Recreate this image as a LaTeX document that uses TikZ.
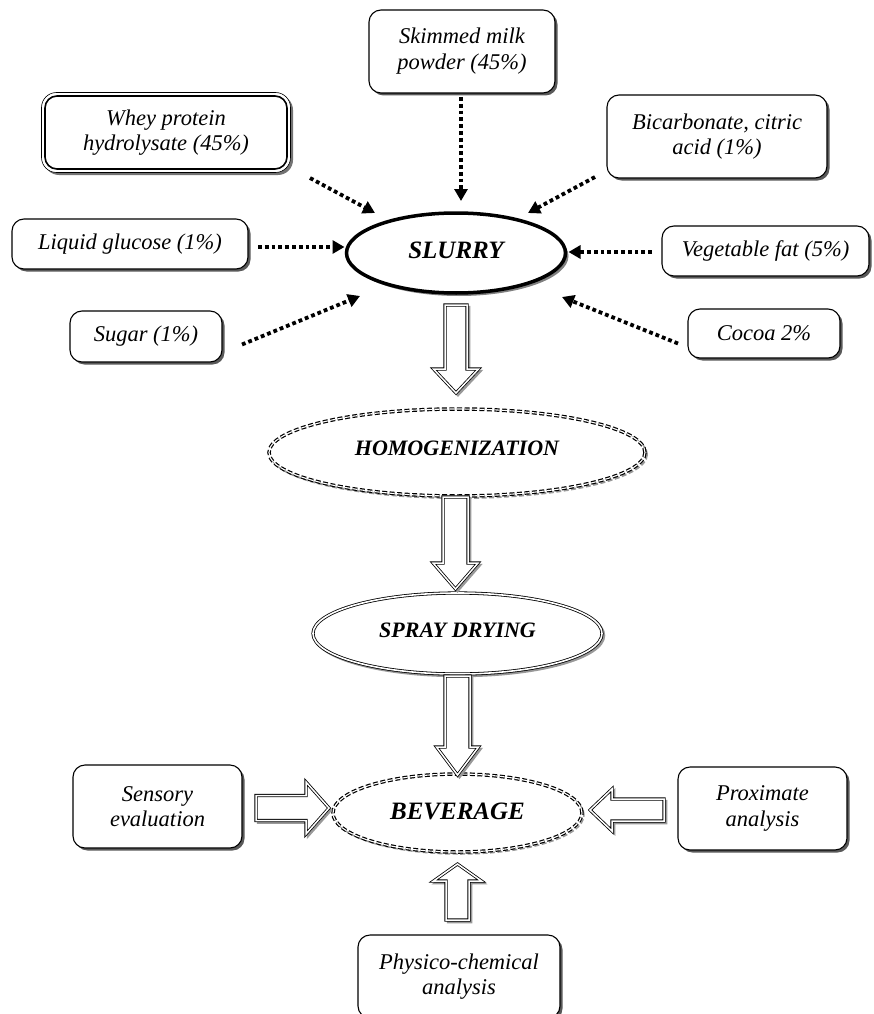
\documentclass[tikz,border=0pt]{standalone}
\usepackage{fontspec}
\setmainfont{Liberation Serif}
\usetikzlibrary{shapes.geometric,shadows,arrows.meta,calc,backgrounds}
\newcommand\BArrV[5]{%
  \draw[bshadow] let \p1=(#1),\p2=(#2) in (\x2-#3,\y1) -- (\x2-#3,\y2+#5) -- (\x2-#4,\y2+#5) -- (\x2,\y2) -- (\x2+#4,\y2+#5) -- (\x2+#3,\y2+#5) -- (\x2+#3,\y1) -- cycle;
  \draw[barrow] let \p1=(#1),\p2=(#2) in (\x2-#3,\y1) -- (\x2-#3,\y2+#5) -- (\x2-#4,\y2+#5) -- (\x2,\y2) -- (\x2+#4,\y2+#5) -- (\x2+#3,\y2+#5) -- (\x2+#3,\y1) -- cycle;}
\newcommand\BArrH[5]{%
  \draw[bshadow] let \p1=(#1),\p2=(#2) in (\x1,\y2-#3) -- (\x2+#5,\y2-#3) -- (\x2+#5,\y2-#4) -- (\x2,\y2) -- (\x2+#5,\y2+#4) -- (\x2+#5,\y2+#3) -- (\x1,\y2+#3) -- cycle;
  \draw[barrow] let \p1=(#1),\p2=(#2) in (\x1,\y2-#3) -- (\x2+#5,\y2-#3) -- (\x2+#5,\y2-#4) -- (\x2,\y2) -- (\x2+#5,\y2+#4) -- (\x2+#5,\y2+#3) -- (\x1,\y2+#3) -- cycle;}
\begin{document}
\begin{tikzpicture}[x=1pt,y=-1pt,
  boxbase/.style={draw, rounded corners=12pt, line width=1.1pt, fill=white, align=center,
    inner sep=2pt, outer sep=0pt, font=\itshape\fontsize{22.5}{25.5}\selectfont},
  box/.style={boxbase, drop shadow={shadow xshift=2.5pt, shadow yshift=-2.5pt, fill=black!65, opacity=1}},
  ell/.style={ellipse, inner sep=0pt, outer sep=0pt, fill=white, font=\bfseries\itshape\fontsize{22}{26}\selectfont},
  dotarr/.style={line width=3.8pt, dash pattern=on 3.8pt off 3pt, -{Triangle[length=12pt,width=13pt]}},
  barrow/.style={draw, line width=0.8pt, double, double distance=1.5pt, fill=white, line join=miter},
  bshadow/.style={draw=black!40, line width=2.5pt, transform canvas={shift={(2pt,-2pt)}}},
  dashell/.style={draw, line width=1.2pt, double, double distance=1.1pt, dash pattern=on 5pt off 2.5pt},
  ]
\useasboundingbox (0,0) rectangle (873,1014);

% input boxes
\node[box, minimum width=186pt, minimum height=83pt] (skim) at (462,51.5) {\raisebox{4pt}{\begin{tabular}{@{}c@{}}Skimmed milk\\powder (45\%)\end{tabular}}};
\node[boxbase, line width=1.6pt, minimum width=242pt, minimum height=73pt] (whey) at (166,132.5) {Whey protein\\hydrolysate (45\%)};
\begin{pgfonlayer}{background}
\draw[line width=0.6pt, rounded corners=15pt, fill=white,
  drop shadow={shadow xshift=2.5pt, shadow yshift=-2.5pt, fill=black!55, opacity=1}]
  ($(whey.north west)+(-3.5,-3.5)$) rectangle ($(whey.south east)+(3.5,3.5)$);
\end{pgfonlayer}
\node[box, minimum width=220pt, minimum height=83pt] (bic) at (717,136.5) {Bicarbonate, citric\\acid (1\%)};
\node[box, minimum width=236pt, minimum height=50pt] (gluc) at (130,244) {Liquid glucose (1\%)};
\node[box, minimum width=207pt, minimum height=50pt] (veg) at (765.5,251) {Vegetable fat (5\%)};
\node[box, minimum width=152pt, minimum height=51pt] (sugar) at (146,336.5) {Sugar (1\%)};
\node[box, minimum width=152pt, minimum height=49pt] (cocoa) at (764,333.5) {Cocoa 2\%};

% process ellipses
\node[ell, draw, line width=3.5pt, minimum width=219pt, minimum height=80pt,
  font=\bfseries\itshape\fontsize{25}{28}\selectfont,
  drop shadow={shadow xshift=3pt, shadow yshift=-3pt, fill=black!50, opacity=1}] (slurry) at (456,253) {\raisebox{6pt}{SLURRY}};
\node[ell, dashell, minimum width=376pt, minimum height=87pt] (homog) at (457,452.5) {\raisebox{9pt}{HOMOGENIZATION}};
\node[ell, draw, line width=0.8pt, double, double distance=1.6pt,
  minimum width=289pt, minimum height=81pt] (spray) at (457.5,633.5) {\raisebox{6pt}{SPRAY DRYING}};
\node[ell, dashell, minimum width=249pt, minimum height=78pt,
  font=\bfseries\itshape\fontsize{25}{28}\selectfont] (bev) at (457.5,813) {\raisebox{3pt}{BEVERAGE}};
\begin{pgfonlayer}{background}
\draw[draw=black!40, line width=2pt, dash pattern=on 5pt off 2.5pt, transform canvas={shift={(2pt,-2pt)}}]
  (homog.center) ellipse [x radius=188pt, y radius=43.5pt];
\draw[draw=black!40, line width=2.5pt, transform canvas={shift={(2pt,-2pt)}}]
  (spray.center) ellipse [x radius=144.5pt, y radius=40.5pt];
\draw[draw=black!40, line width=1.5pt, dash pattern=on 5pt off 2.5pt, transform canvas={shift={(2pt,-2pt)}}]
  (bev.center) ellipse [x radius=124.5pt, y radius=39pt];
\end{pgfonlayer}

% analysis boxes
\node[box, minimum width=169pt, minimum height=83pt] (sens) at (157.5,806.5) {Sensory\\evaluation};
\node[box, minimum width=169pt, minimum height=83pt] (prox) at (762.5,808.5) {Proximate\\analysis};
\node[box, minimum width=202pt, minimum height=83pt] (phys) at (459,976.5) {Physico-chemical\\analysis};

% dotted arrow tips
\coordinate (tSkim) at ($(slurry.north)+(5,-12)$);
\coordinate (tWhey) at ($(slurry.center)+(-81,-40)$);
\coordinate (tBic) at ($(slurry.center)+(72,-40)$);
\coordinate (tGluc) at ($(slurry.west)+(-2,-6)$);
\coordinate (tVeg) at ($(slurry.east)+(3,-1)$);
\coordinate (tSugar) at ($(slurry.center)+(-96,43)$);
\coordinate (tCocoa) at ($(slurry.center)+(106,44)$);

\draw[dotarr] ($(skim.south)+(-1,4)$) -- (tSkim);
\draw[dotarr] ($(whey.south east)+(23,9)$) -- (tWhey);
\draw[dotarr] ($(bic.south west)+(-12,-1)$) -- (tBic);
\draw[dotarr] ($(gluc.east)+(10,3)$) -- (tGluc);
\draw[dotarr] ($(veg.west)+(-10,1)$) -- (tVeg);
\draw[dotarr] ($(sugar.east)+(20,8)$) -- (tSugar);
\draw[dotarr] ($(cocoa.west)+(-10,10)$) -- (tCocoa);

% block arrows
\BArrV{$(slurry.south)+(0,12)$}{$(homog.north)+(-1,-16)$}{11pt}{22.5pt}{24pt}
\BArrV{$(homog.south)+(0,1)$}{$(spray.north)+(-2,-4)$}{12.5pt}{22.5pt}{26pt}
\BArrV{$(spray.south)+(0,2)$}{$(bev.north)+(0,1)$}{12.5pt}{21pt}{28pt}
\BArrV{$(phys.north)+(0,-15)$}{$(bev.south)+(0,12)$}{11.5pt}{24pt}{-17pt}
\BArrH{$(sens.east)+(14,0)$}{$(bev.west)+(-4,-5)$}{12.5pt}{26pt}{-23pt}
\BArrH{$(prox.west)+(-14,0)$}{$(bev.east)+(8,-3)$}{11pt}{21pt}{22pt}
\end{tikzpicture}
\end{document}
